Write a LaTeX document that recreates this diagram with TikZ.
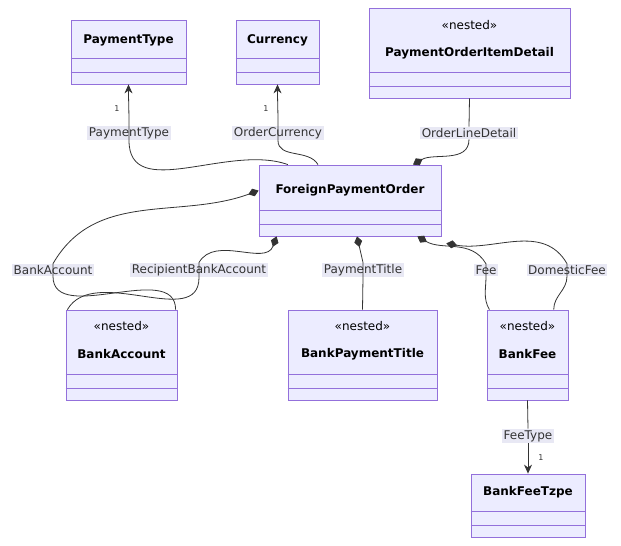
\documentclass[tikz,border=0pt]{standalone}
\usepackage{fontspec}
\setmainfont{DejaVu Sans}
\usetikzlibrary{arrows.meta}
\definecolor{clsfill}{HTML}{ECECFF}
\definecolor{clsdraw}{HTML}{9370DB}
\definecolor{lblfill}{HTML}{E8E8F4}
\definecolor{edge}{HTML}{333333}
\tikzset{
  cls/.style={draw=clsdraw, fill=clsfill, line width=0.8pt, inner sep=0pt},
  ttl/.style={font=\fontsize{12}{14}\selectfont\bfseries, text=black},
  nst/.style={font=\fontsize{12}{14}\selectfont, text=black},
  lbl/.style={fill=lblfill, font=\fontsize{12}{14}\selectfont, text=edge, inner sep=1.5pt},
  mul/.style={font=\fontsize{8}{9}\selectfont, text=edge},
  rel/.style={draw=edge, line width=0.8pt},
  comp/.style={-{Diamond[length=11pt,width=8pt]}},
  assoc/.style={-{Stealth[length=9pt,width=8pt]}}
}
% two empty compartments at the bottom of a class box
\newcommand{\compart}[1]{%
  \draw[clsdraw, line width=0.8pt] ([yshift=26pt]#1.south west) -- ([yshift=26pt]#1.south east);
  \draw[clsdraw, line width=0.8pt] ([yshift=12pt]#1.south west) -- ([yshift=12pt]#1.south east);
}
\begin{document}
\begin{tikzpicture}[x=1pt,y=-1pt]
\useasboundingbox (0,0) rectangle (621,546);

% classes
\node[cls, minimum width=115pt, minimum height=64pt] (pt) at (128.5,52) {};
\node[ttl] at (128.5,40) {PaymentType};
\compart{pt}
\node[cls, minimum width=83pt, minimum height=64pt] (cur) at (277.5,52) {};
\node[ttl] at (277.5,40) {Currency};
\compart{cur}
\node[cls, minimum width=201pt, minimum height=90pt] (poid) at (469.5,53) {};
\node[nst] at (469.5,25) {«nested»};
\node[ttl] at (469.5,53) {PaymentOrderItemDetail};
\compart{poid}
\node[cls, minimum width=182pt, minimum height=71pt] (fpo) at (350,200.5) {};
\node[ttl] at (350,190) {ForeignPaymentOrder};
\compart{fpo}
\node[cls, minimum width=111pt, minimum height=90pt] (ba) at (121.5,355) {};
\node[nst] at (121.5,326) {«nested»};
\node[ttl] at (121.5,354) {BankAccount};
\compart{ba}
\node[cls, minimum width=149pt, minimum height=90pt] (bpt) at (362.5,355) {};
\node[nst] at (362.5,326) {«nested»};
\node[ttl] at (362.5,354) {BankPaymentTitle};
\compart{bpt}
\node[cls, minimum width=81pt, minimum height=90pt] (bf) at (527.5,355) {};
\node[nst] at (527.5,326) {«nested»};
\node[ttl] at (527.5,354) {BankFee};
\compart{bf}
\node[cls, minimum width=114pt, minimum height=63pt] (bft) at (528,505.5) {};
\node[ttl] at (528,492) {BankFeeTzpe};
\compart{bft}

% relation labels
\node[lbl] (lpt) at (129,133) {PaymentType};
\node[lbl] (lcur) at (278,133) {OrderCurrency};
\node[lbl] (lold) at (469,133) {OrderLineDetail};
\node[lbl] (lba) at (53,270) {BankAccount};
\node[lbl] (lrba) at (199,270) {RecipientBankAccount};
\node[lbl] (lptl) at (363,270) {PaymentTitle};
\node[lbl] (lfee) at (486,270) {Fee};
\node[lbl] (ldf) at (567,270) {DomesticFee};
\node[lbl] (lft) at (528,436) {FeeType};
\node[mul] at (117,109) {1};
\node[mul] at (266,109) {1};
\node[mul] at (541,458) {1};

% relations
\draw[rel, assoc] (fpo.150) to[out=160,in=-90] (lpt.south) -- (lpt.north) to[out=90,in=-90] (pt.south);
\draw[rel, assoc] ([xshift=-32pt]fpo.north) to[out=120,in=-90] (lcur.south) -- (lcur.north) to[out=90,in=-90] (cur.south);
\draw[rel] (poid.south) -- (lold.north);
\draw[rel, comp] (lold.south) to[out=-90,in=30] ([xshift=63pt]fpo.north);
\draw[rel, comp] (ba.40) to[out=90,in=-90] (lba.south) -- (lba.north) to[out=60,in=200] ([yshift=-26pt]fpo.north west);
\draw[rel, comp] (ba.140) to[out=60,in=-90] (lrba.south) -- (lrba.north) to[out=60,in=-110] ([xshift=18pt]fpo.south west);
\draw[rel, comp] (bpt.north) -- (lptl.south) -- (lptl.north) -- ([xshift=7pt]fpo.south);
\draw[rel, comp] (bf.130) to[out=120,in=-90] (lfee.south) -- (lfee.north) to[out=120,in=-30] ([xshift=-24pt]fpo.south east);
\draw[rel, comp] (bf.60) to[out=90,in=-90] (ldf.south) -- (ldf.north) to[out=120,in=-10] ([xshift=5pt,yshift=-7pt]fpo.south east);
\draw[rel] (bf.south) -- (lft.north);
\draw[rel, assoc] (lft.south) -- (bft.north);
\end{tikzpicture}
\end{document}
